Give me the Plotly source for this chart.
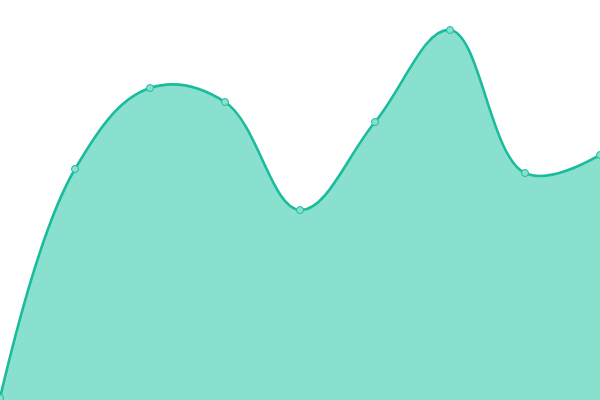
import plotly.graph_objects as go

x_vals = [0, 1, 2, 3, 4, 5, 6, 7, 8]
y_vals = [2, 231, 312, 298, 190, 278, 370, 227, 245]

fig = go.Figure()
fig.add_trace(go.Scatter(
    x=x_vals, y=y_vals,
    mode="lines+markers",
    line=dict(shape="spline", smoothing=1.1, color="#1abc9c", width=2.6),
    marker=dict(size=7, color="#8ae0cf", line=dict(color="#1abc9c", width=1)),
    fill="tozeroy",
    fillcolor="#8ae0cf",
    cliponaxis=False,
    hoverinfo="skip",
))
fig.update_layout(
    width=600, height=400,
    margin=dict(l=0, r=0, t=0, b=0),
    paper_bgcolor="white", plot_bgcolor="white",
    showlegend=False,
    xaxis=dict(visible=False, range=[0, 8]),
    yaxis=dict(visible=False, range=[0, 400]),
)
fig.write_html(
    "out.html",
    config={"displayModeBar": False},
    post_script="document.body.style.margin='0';document.body.style.overflow='hidden';",
)
